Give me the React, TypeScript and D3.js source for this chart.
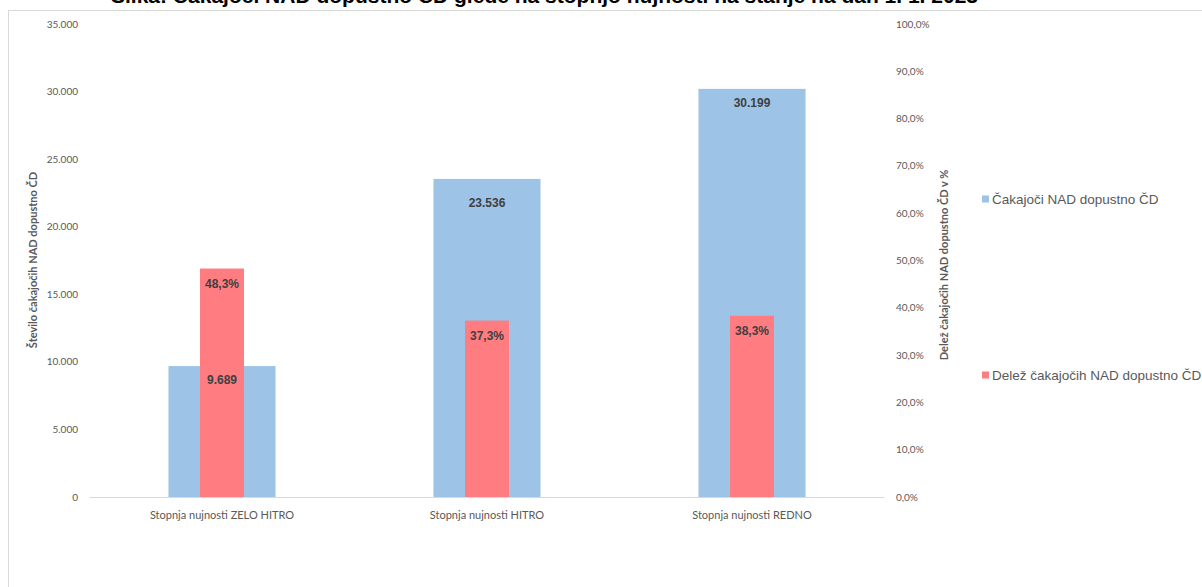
import React from "react";
import * as d3 from "d3";

const categories = ["Stopnja nujnosti ZELO HITRO", "Stopnja nujnosti HITRO", "Stopnja nujnosti REDNO"];
const waitingOver = [9689, 23536, 30199];
const shareOver = [48.3, 37.3, 38.3];
const leftTicks = [0, 5000, 10000, 15000, 20000, 25000, 30000, 35000];
const rightTicks = [0, 10, 20, 30, 40, 50, 60, 70, 80, 90, 100];
const seriesNames = ["Čakajoči NAD dopustno ČD", "Delež čakajočih NAD dopustno ČD"];
const titleText = "Slika: Čakajoči NAD dopustno ČD glede na stopnjo nujnosti na stanje na dan 1. 1. 2023";
const leftTitle = "Število čakajočih NAD dopustno ČD";
const rightTitle = "Delež čakajočih NAD dopustno ČD v %";

const BLUE = "#9DC3E6";
const RED = "#FF7C80";
const TICK = "#595959";
const LABEL = "#404040";

export default function App() {
  const x0 = 89.5, x1 = 884.5, yTop = 24, yBot = 497;
  const x = d3.scaleBand<string>().domain(categories).range([x0, x1]).padding(0);
  const yL = d3.scaleLinear().domain([0, 35000]).range([yBot, yTop]);
  const yR = d3.scaleLinear().domain([0, 100]).range([yBot, yTop]);
  const bw = x.bandwidth();
  const blueW = bw * 0.404;
  const redW = bw * 0.166;
  const fmtN = (v: number) => d3.format(",")(v).replace(/,/g, ".");
  const fmtP = (v: number) => v.toFixed(1).replace(".", ",") + "%";
  const tickFont = "Lato, 'Open Sans', sans-serif";
  const labFont = "'Liberation Sans', Arial, sans-serif";

  return (
    <svg width={1202} height={587} style={{ position: "absolute", left: 0, top: 0, background: "#fff" }}>
      <text x={978} y={3} textAnchor="end" fontFamily={labFont} fontWeight="bold" fontSize={21} fill="#000">
        {titleText}
      </text>
      <rect x={8.5} y={10.5} width={1400} height={800} fill="#fff" stroke="#d9d9d9" strokeWidth={1} />

      {/* left axis */}
      {leftTicks.map((t) => (
        <text key={"l" + t} x={78} y={yL(t)} dy="0.35em" textAnchor="end" fontFamily={tickFont} fontSize={10} fill={TICK}>
          {t === 0 ? "0" : fmtN(t)}
        </text>
      ))}
      {/* right axis */}
      {rightTicks.map((t) => (
        <text key={"r" + t} x={896} y={yR(t)} dy="0.35em" textAnchor="start" fontFamily={tickFont} fontSize={10} fill={TICK}>
          {fmtP(t)}
        </text>
      ))}
      <text transform={`translate(37,260) rotate(-90)`} textAnchor="middle" fontFamily={tickFont} fontWeight="bold" fontSize={11} fill={TICK}>
        {leftTitle}
      </text>
      <text transform={`translate(948,265) rotate(-90)`} textAnchor="middle" fontFamily={tickFont} fontWeight="bold" fontSize={11} fill={TICK}>
        {rightTitle}
      </text>

      {/* bars */}
      {categories.map((c, i) => {
        const cx = (x(c) as number) + bw / 2;
        return (
          <g key={c}>
            <rect x={cx - blueW / 2} y={yL(waitingOver[i])} width={blueW} height={yBot - yL(waitingOver[i])} fill={BLUE} />
            <rect x={cx - redW / 2} y={yR(shareOver[i])} width={redW} height={yBot - yR(shareOver[i])} fill={RED} />
          </g>
        );
      })}
      <line x1={x0} x2={x1} y1={yBot + 0.5} y2={yBot + 0.5} stroke="#d9d9d9" strokeWidth={1} />

      {/* labels */}
      {categories.map((c, i) => {
        const cx = (x(c) as number) + bw / 2;
        return (
          <g key={"lab" + c}>
            <text x={cx} y={yL(waitingOver[i]) + (i === 1 ? 24 : 14)} dy="0.35em" textAnchor="middle" fontFamily={labFont} fontWeight="bold" fontSize={12} fill={LABEL}>
              {fmtN(waitingOver[i])}
            </text>
            <text x={cx} y={yR(shareOver[i]) + 15} dy="0.35em" textAnchor="middle" fontFamily={labFont} fontWeight="bold" fontSize={12} fill={LABEL}>
              {fmtP(shareOver[i])}
            </text>
            <text x={cx} y={515} dy="0.35em" textAnchor="middle" fontFamily={tickFont} fontSize={11} fill={TICK}>
              {c}
            </text>
          </g>
        );
      })}

      {/* legend */}
      {seriesNames.map((s, i) => {
        const ly = i === 0 ? 199 : 375;
        return (
          <g key={s}>
            <rect x={982} y={ly - 3.5} width={7} height={7} fill={i === 0 ? BLUE : RED} />
            <text x={992} y={ly} dy="0.35em" fontFamily={labFont} fontSize={13.5} fill={TICK}>
              {s}
            </text>
          </g>
        );
      })}
    </svg>
  );
}
